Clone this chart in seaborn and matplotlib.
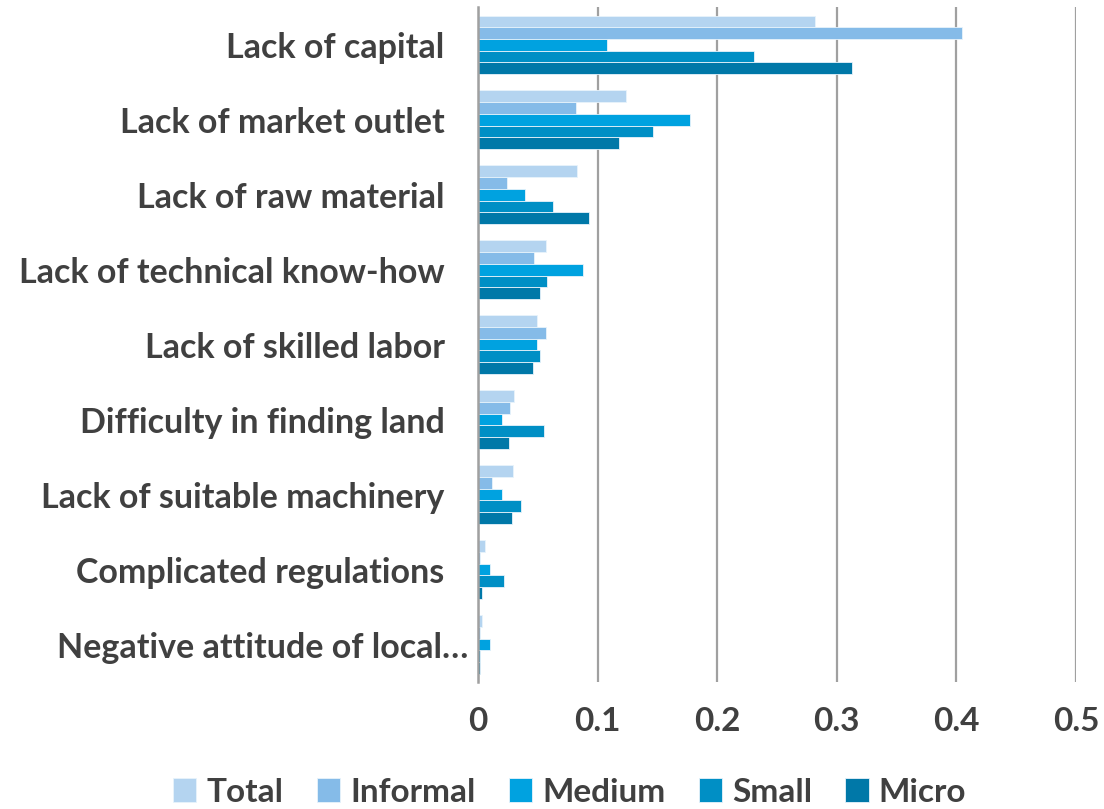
import numpy as np
import pandas as pd
import matplotlib
matplotlib.use("Agg")
import matplotlib.pyplot as plt
import matplotlib.transforms as mtrans
import seaborn as sns
from matplotlib.ticker import FixedLocator

# data
categories = ["Lack of capital", "Lack of market outlet", "Lack of raw material",
              "Lack of technical know-how", "Lack of skilled labor",
              "Difficulty in finding land", "Lack of suitable machinery",
              "Complicated regulations", "Negative attitude of local\u2026"]
groups = ["Total", "Informal", "Medium", "Small", "Micro"]
total    = [0.282, 0.124, 0.083, 0.057, 0.049, 0.030, 0.029, 0.006, 0.003]
informal = [0.405, 0.082, 0.024, 0.047, 0.057, 0.027, 0.012, 0.002, 0.002]
medium   = [0.108, 0.177, 0.039, 0.088, 0.049, 0.020, 0.020, 0.010, 0.010]
small    = [0.231, 0.146, 0.063, 0.058, 0.052, 0.055, 0.036, 0.022, 0.002]
micro    = [0.313, 0.118, 0.093, 0.052, 0.046, 0.026, 0.028, 0.003, 0.002]
xticks = [0, 0.1, 0.2, 0.3, 0.4, 0.5]
colors = ["#B4D4F0", "#85BBE8", "#00A2E0", "#008FC5", "#0078A8"]

df = pd.DataFrame({"category": categories * 5,
                   "group": np.repeat(groups, len(categories)),
                   "value": total + informal + medium + small + micro})

sns.set_style("white")
plt.rcParams["font.family"] = ["Lato", "DejaVu Sans"]
plt.rcParams["font.weight"] = "bold"
txt = "#404040"
grid = "#A0A0A0"

fig = plt.figure(figsize=(11.04, 8.09), dpi=100)
ax = fig.add_axes([0.433, 0.157, 0.9746 - 0.433, 0.991 - 0.157])

sns.barplot(data=df, y="category", x="value", hue="group", order=categories,
            hue_order=groups, palette=colors, saturation=1, orient="h", width=0.78,
            edgecolor="#E8F3FB", linewidth=0.6, ax=ax)

ax.set_xlim(0, 0.5)
ax.set_xticks(xticks)
ax.set_xticklabels(["0", "0.1", "0.2", "0.3", "0.4", "0.5"])
ax.xaxis.grid(True, color=grid, linewidth=1.6)
ax.set_axisbelow(True)
ax.set_xlabel("")
ax.set_ylabel("")

for s in ["top", "right", "bottom"]:
    ax.spines[s].set_visible(False)
ax.spines["left"].set_color(grid)
ax.spines["left"].set_linewidth(1.8)

ax.tick_params(axis="x", length=0, pad=18, labelsize=24, labelcolor=txt)
ax.tick_params(axis="y", which="major", length=0, pad=24, labelsize=24.5, labelcolor=txt)
ax.yaxis.set_minor_locator(FixedLocator(np.arange(-0.5, len(categories), 1)))
ax.tick_params(axis="y", which="minor", length=9, width=1.8, color=grid)
for lab in ax.get_xticklabels() + ax.get_yticklabels():
    lab.set_fontweight("bold")

# the truncated last label sits further right, over the tick area
last = ax.get_yticklabels()[-1]
last.set_transform(last.get_transform() + mtrans.ScaledTranslation(24 / 100, 0, fig.dpi_scale_trans))

ax.get_legend().remove()
handles, labels = ax.get_legend_handles_labels()
leg = fig.legend(handles, labels, loc="center", bbox_to_anchor=(0.516, 0.021),
                 ncol=5, frameon=False, handlelength=0.7, handleheight=0.7,
                 handletextpad=0.3, columnspacing=1.0,
                 prop={"weight": "bold", "size": 24})
for t in leg.get_texts():
    t.set_color(txt)

fig.savefig("out.png", dpi=100)
